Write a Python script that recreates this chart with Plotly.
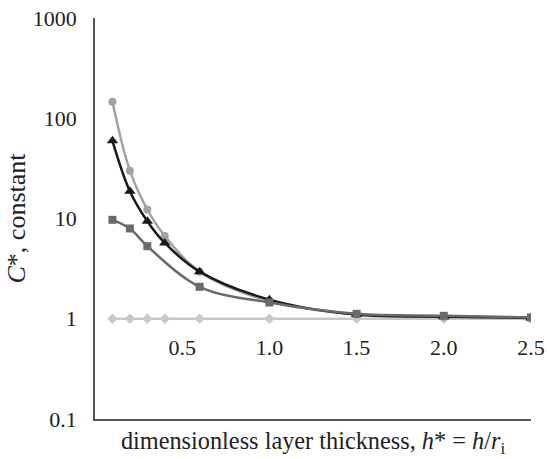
import plotly.graph_objects as go

h_star = [0.1, 0.2, 0.3, 0.4, 0.6, 1.0, 1.5, 2.0, 2.5]
h_star_sq = [0.1, 0.2, 0.3, 0.6, 1.0, 1.5, 2.0, 2.5]

c_diamond = [1, 1, 1, 1, 1, 1, 1, 1, 1]
c_circle = [146, 30, 12.3, 6.7, 2.95, 1.5, 1.1, 1.05, 1.02]
c_triangle = [59.6, 18.7, 9.4, 5.7, 2.95, 1.55, 1.1, 1.05, 1.02]
c_square = [9.7, 7.95, 5.3, 2.08, 1.45, 1.12, 1.07, 1.03]

y_ticks = [0.1, 1, 10, 100, 1000]
y_tick_text = ["0.1", "1", "10", "100", "1000"]
x_ticks = [0.5, 1.0, 1.5, 2.0, 2.5]
x_tick_text = ["0.5", "1.0", "1.5", "2.0", "2.5"]

FONT = "Liberation Serif, Times New Roman, serif"

fig = go.Figure()
fig.add_trace(go.Scatter(x=h_star, y=c_diamond, mode="lines+markers",
                         line=dict(color="#c8c8c8", width=2.5, shape="spline"),
                         marker=dict(symbol="diamond", size=8, color="#c8c8c8")))
fig.add_trace(go.Scatter(x=h_star, y=c_circle, mode="lines+markers",
                         line=dict(color="#a3a3a3", width=2.5, shape="spline"),
                         marker=dict(symbol="circle", size=8, color="#a3a3a3")))
fig.add_trace(go.Scatter(x=h_star, y=c_triangle, mode="lines+markers",
                         line=dict(color="#1a1a1a", width=2.5, shape="spline"),
                         marker=dict(symbol="triangle-up", size=10, color="#1a1a1a")))
fig.add_trace(go.Scatter(x=h_star_sq, y=c_square, mode="lines+markers",
                         line=dict(color="#6a6a6a", width=2.5, shape="spline"),
                         marker=dict(symbol="square", size=8, color="#6a6a6a")))
# empty trace so the bottom frame axis (with the title) is drawn
fig.add_trace(go.Scatter(x=[], y=[], xaxis="x2", yaxis="y", hoverinfo="skip"))

fig.update_layout(
    width=547, height=459,
    margin=dict(l=95, r=16, t=18, b=40),
    paper_bgcolor="white", plot_bgcolor="white",
    showlegend=False,
    font=dict(family=FONT, size=22, color="#222222"),
    xaxis=dict(range=[0, 2.5], tickvals=x_ticks, ticktext=x_tick_text,
               showgrid=False, zeroline=False, showline=False,
               anchor="free", position=0.25, automargin=False,
               ticks="", ticklabelstandoff=13, ticklabeloverflow="allow"),
    xaxis2=dict(range=[0, 2.5], overlaying="x", anchor="y", side="bottom",
                showgrid=False, zeroline=False, showticklabels=False, ticks="",
                showline=True, linecolor="#555555", linewidth=1.5, automargin=False,
                title=dict(text="dimensionless layer thickness, <i>h</i>* = <i>h</i>/<i>r</i><sub>i</sub>",
                           font=dict(size=24.3), standoff=12)),
    yaxis=dict(type="log", range=[-1, 3], tickvals=y_ticks, ticktext=y_tick_text,
               showgrid=False, zeroline=False, showline=True, linecolor="#555555",
               linewidth=1.5, ticks="", ticklabelstandoff=12, automargin=False,
               ticklabeloverflow="allow",
               title=dict(text="<i>C</i>*, constant", standoff=0)),
)

fig.write_html("out.html",
               config={"displayModeBar": False},
               post_script="document.body.style.margin='0';document.body.style.overflow='hidden';")
